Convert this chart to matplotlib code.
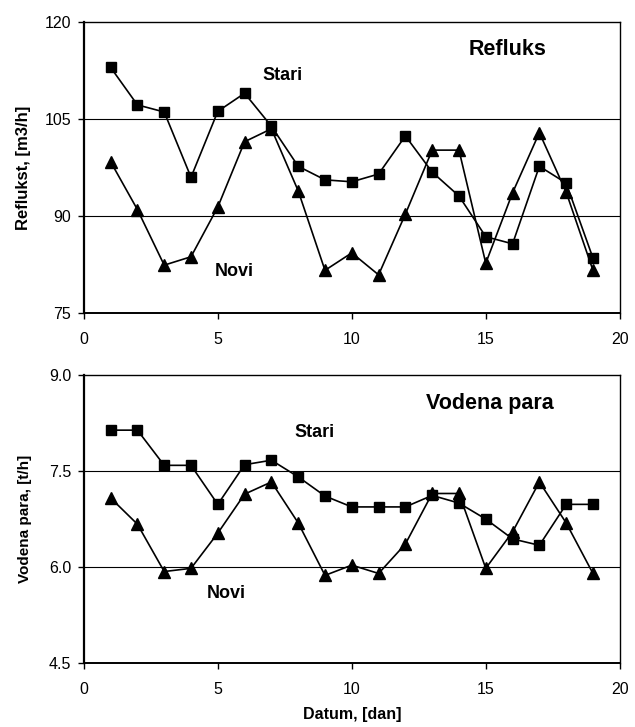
import matplotlib
matplotlib.use("Agg")
import matplotlib.pyplot as plt

plt.rcParams['font.family'] = ['Liberation Sans', 'DejaVu Sans']

# Days
days = list(range(1, 20))

# Reflux flow, m3/h
refluks_stari = [113.0, 107.2, 106.1, 96.0, 106.2, 109.0, 103.9, 97.7, 95.6, 95.3,
                 96.5, 102.4, 96.8, 93.1, 86.8, 85.7, 97.7, 95.1, 83.5]
refluks_novi = [98.4, 91.0, 82.4, 83.7, 91.4, 101.5, 103.5, 93.9, 81.6, 84.3,
                80.9, 90.3, 100.2, 100.2, 82.7, 93.6, 102.9, 93.7, 81.6]

# Steam flow, t/h
para_stari = [8.14, 8.14, 7.59, 7.59, 6.98, 7.60, 7.67, 7.41, 7.11, 6.94,
              6.94, 6.94, 7.12, 7.00, 6.75, 6.44, 6.34, 6.98, 6.98]
para_novi = [7.08, 6.67, 5.93, 5.98, 6.53, 7.14, 7.33, 6.69, 5.87, 6.03,
             5.90, 6.36, 7.15, 7.15, 5.98, 6.55, 7.33, 6.69, 5.90]

x_ticks = [0, 5, 10, 15, 20]
refluks_ticks = [75, 90, 105, 120]
para_ticks = [4.5, 6.0, 7.5, 9.0]

fig = plt.figure(figsize=(6.35, 7.27), dpi=100)
ax1 = fig.add_axes([0.132, 0.5695, 0.844, 0.400])
ax2 = fig.add_axes([0.132, 0.088, 0.844, 0.396])


def style(ax, yticks, yfmt):
    ax.set_xlim(0, 20)
    ax.set_ylim(yticks[0], yticks[-1])
    ax.set_xticks(x_ticks)
    ax.set_yticks(yticks)
    ax.set_yticklabels([yfmt.format(v) for v in yticks])
    for y in yticks[1:-1]:
        ax.axhline(y, color='black', lw=0.8, zorder=1)
    for s in ax.spines.values():
        s.set_linewidth(1.0)
    ax.spines['left'].set_linewidth(1.6)
    ax.spines['bottom'].set_linewidth(1.4)
    ax.tick_params(axis='both', direction='out', length=4, width=1,
                   labelsize=11.5)
    ax.tick_params(axis='x', pad=10)
    ax.tick_params(axis='y', pad=5)


ax1.plot(days, refluks_stari, color='black', lw=1.2, marker='s', ms=7.5, zorder=3)
ax1.plot(days, refluks_novi, color='black', lw=1.2, marker='^', ms=8, zorder=3)
style(ax1, refluks_ticks, "{:.0f}")
ax1.set_ylabel("Reflukst, [m3/h]", fontsize=12, fontweight='bold', labelpad=10)
ax1.text(15.8, 115.7, "Refluks", fontsize=15.5, fontweight='bold', ha='center', va='center')
ax1.text(7.4, 111.8, "Stari", fontsize=13, fontweight='bold', ha='center', va='center')
ax1.text(5.6, 81.4, "Novi", fontsize=13, fontweight='bold', ha='center', va='center')

ax2.plot(days, para_stari, color='black', lw=1.2, marker='s', ms=7.5, zorder=3)
ax2.plot(days, para_novi, color='black', lw=1.2, marker='^', ms=8, zorder=3)
style(ax2, para_ticks, "{:.1f}")
ax2.set_ylabel("Vodena para, [t/h]", fontsize=11, fontweight='bold', labelpad=12)
ax2.set_xlabel("Datum, [dan]", fontsize=11.5, fontweight='bold', labelpad=7)
ax2.text(15.15, 8.56, "Vodena para", fontsize=15.5, fontweight='bold', ha='center', va='center')
ax2.text(8.6, 8.11, "Stari", fontsize=13, fontweight='bold', ha='center', va='center')
ax2.text(5.3, 5.58, "Novi", fontsize=13, fontweight='bold', ha='center', va='center')

fig.savefig("out.png", dpi=100, facecolor='white')
